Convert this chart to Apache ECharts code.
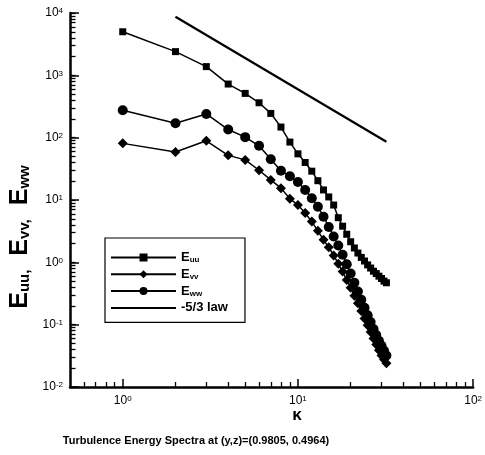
<!DOCTYPE html>
<html><head><meta charset="utf-8">
<script src="https://cdn.jsdelivr.net/npm/echarts@6/dist/echarts.min.js"></script>
<style>html,body{margin:0;padding:0;background:#fff}#c{width:485px;height:455px}</style>
</head><body><div id="c"></div>
<script>
const kappa = [1,2,3,4,5,6,7,8,9,10,11,12,13,14,15,16,17,18,19,20,21,22,23,24,25,26,27,28,29,30,31,32];
const Euu = [5000,2400,1380,725,513,363,245,148,85,55,40,29,20.4,14.5,11.2,8.3,5.2,3.8,2.82,2.14,1.70,1.41,1.20,1.05,0.91,0.81,0.72,0.66,0.60,0.55,0.50,0.47];
const Evv = [81,59,89,52,44,30,21,15.5,10.5,8.3,6.2,4.5,3.2,2.3,1.74,1.29,0.95,0.71,0.52,0.39,0.29,0.22,0.166,0.126,0.098,0.076,0.060,0.048,0.039,0.032,0.0275,0.024];
const Eww = [275,170,240,135,102,74,45,29.5,24,19.5,14.5,10.7,7.8,5.4,3.7,2.6,1.86,1.32,0.93,0.66,0.47,0.34,0.25,0.186,0.141,0.110,0.085,0.068,0.055,0.046,0.038,0.032];
const lawK = [2, 32];
const lawE = [8700, 86];
const xMajor = [1, 10, 100];
const xMinor = [0.6,0.7,0.8,0.9,2,3,4,5,6,7,8,9,20,30,40,50,60,70,80,90];
const yMajor = [0.01, 0.1, 1, 10, 100, 1000, 10000];
const yMinor = [0.02,0.03,0.04,0.05,0.06,0.07,0.08,0.09,0.2,0.3,0.4,0.5,0.6,0.7,0.8,0.9,2,3,4,5,6,7,8,9,20,30,40,50,60,70,80,90,200,300,400,500,600,700,800,900,2000,3000,4000,5000,6000,7000,8000,9000];
const seriesNames = ['Euu','Evv','Eww','-5/3 law'];
const legendLabels = {'Euu':'E{s|uu}','Evv':'E{s|vv}','Eww':'E{s|ww}','-5/3 law':'-5/3 law'};
const yTitle = 'E{s|uu,}{g| }E{s|vv,}{g| }E{s|ww}';
const xTitle = 'κ';
const bottomTitle = 'Turbulence Energy Spectra at (y,z)=(0.9805, 0.4964)';

const FONT = '"Liberation Sans", Arial, sans-serif';
const pair = (xs, ys) => xs.map((x, i) => [x, ys[i]]);
const powLabel = v => { const e = Math.round(Math.log10(v)); return '{b|10}{e|' + e + '}'; };
const labelRich = { b: { fontSize: 12, fontFamily: FONT, color: '#000' }, e: { fontSize: 8, fontFamily: FONT, color: '#000', verticalAlign: 'top' } };

const chart = echarts.init(document.getElementById('c'), null, { renderer: 'canvas' });
const gridBox = { left: 70, top: 13, right: 11, bottom: 68 };
const xBase = { type: 'log', logBase: 10, min: 0.5, max: 100, position: 'bottom', splitLine: { show: false } };
const yBase = { type: 'log', logBase: 10, min: 0.01, max: 10000, position: 'left', splitLine: { show: false } };
chart.setOption({
  animation: false,
  backgroundColor: '#fff',
  grid: [Object.assign({}, gridBox), Object.assign({}, gridBox)],
  xAxis: [
    Object.assign({}, xBase, { gridIndex: 0,
      axisLine: { show: true, lineStyle: { color: '#000', width: 2.5 } },
      axisTick: { show: true, inside: true, length: 8, lineStyle: { color: '#000', width: 1.5 }, customValues: xMajor },
      axisLabel: { show: true, customValues: xMajor, formatter: powLabel, rich: labelRich, margin: 8 }
    }),
    Object.assign({}, xBase, { gridIndex: 0,
      axisLine: { show: false },
      axisTick: { show: true, inside: true, length: 5, lineStyle: { color: '#000', width: 1.3 }, customValues: xMinor },
      axisLabel: { show: false }
    }),
    Object.assign({}, xBase, { gridIndex: 1, show: false })
  ],
  yAxis: [
    Object.assign({}, yBase, { gridIndex: 0,
      axisLine: { show: true, lineStyle: { color: '#000', width: 2.5 } },
      axisTick: { show: true, inside: true, length: 5.5, lineStyle: { color: '#000', width: 1.3 }, customValues: yMajor.concat(yMinor) },
      axisLabel: { show: true, customValues: yMajor, formatter: powLabel, rich: labelRich, margin: 7 }
    }),
    Object.assign({}, yBase, { gridIndex: 1,
      axisLine: { show: false },
      axisTick: { show: true, inside: true, length: 9, lineStyle: { color: '#000', width: 1.5 }, customValues: yMajor },
      axisLabel: { show: false }
    })
  ],
  legend: {
    left: 105, top: 238, orient: 'vertical',
    data: [
      { name: 'Euu' }, { name: 'Evv' }, { name: 'Eww' },
      { name: '-5/3 law', itemStyle: { opacity: 0 } }
    ],
    itemWidth: 65, itemHeight: 10, itemGap: 3.8,
    padding: [13, 17, 8, 5],
    borderColor: '#000', borderWidth: 1.2,
    backgroundColor: '#fff',
    formatter: n => legendLabels[n],
    textStyle: { fontSize: 13, fontWeight: 'bold', fontFamily: FONT, color: '#000',
      rich: { s: { fontSize: 8, fontWeight: 'bold', fontFamily: FONT, color: '#000', verticalAlign: 'bottom' } } }
  },
  graphic: [
    { type: 'text', x: 20, y: 237, rotation: Math.PI / 2,
      style: { text: yTitle, align: 'center', verticalAlign: 'middle', fill: '#000',
        font: 'bold 25px ' + FONT,
        rich: { s: { fontSize: 15, fontWeight: 'bold', fontFamily: FONT, fill: '#000', verticalAlign: 'bottom' },
                g: { fontSize: 25, fontFamily: FONT, padding: [0, 7, 0, 0] } } } },
    { type: 'text', x: 297, y: 415, style: { text: xTitle, align: 'center', verticalAlign: 'middle', fill: '#000', font: 'bold 17px ' + FONT } },
    { type: 'text', x: 196, y: 441, style: { text: bottomTitle, align: 'center', verticalAlign: 'middle', fill: '#000', font: 'bold 11px ' + FONT } }
  ],
  series: [
    { name: 'Euu', type: 'line', xAxisIndex: 0, yAxisIndex: 0, data: pair(kappa, Euu), symbol: 'rect', symbolSize: 7, color: '#000',
      lineStyle: { color: '#000', width: 1.5 }, itemStyle: { color: '#000' } },
    { name: 'Evv', type: 'line', xAxisIndex: 0, yAxisIndex: 0, data: pair(kappa, Evv), symbol: 'diamond', symbolSize: 10, color: '#000',
      lineStyle: { color: '#000', width: 1.5 }, itemStyle: { color: '#000' } },
    { name: 'Eww', type: 'line', xAxisIndex: 0, yAxisIndex: 0, data: pair(kappa, Eww), symbol: 'circle', symbolSize: 10, color: '#000',
      lineStyle: { color: '#000', width: 1.5 }, itemStyle: { color: '#000' } },
    { name: '-5/3 law', type: 'line', xAxisIndex: 0, yAxisIndex: 0, data: pair(lawK, lawE), symbol: 'none', showSymbol: false, color: '#000',
      lineStyle: { color: '#000', width: 2.2 }, itemStyle: { color: '#000' } }
  ]
});
</script>
</body></html>
